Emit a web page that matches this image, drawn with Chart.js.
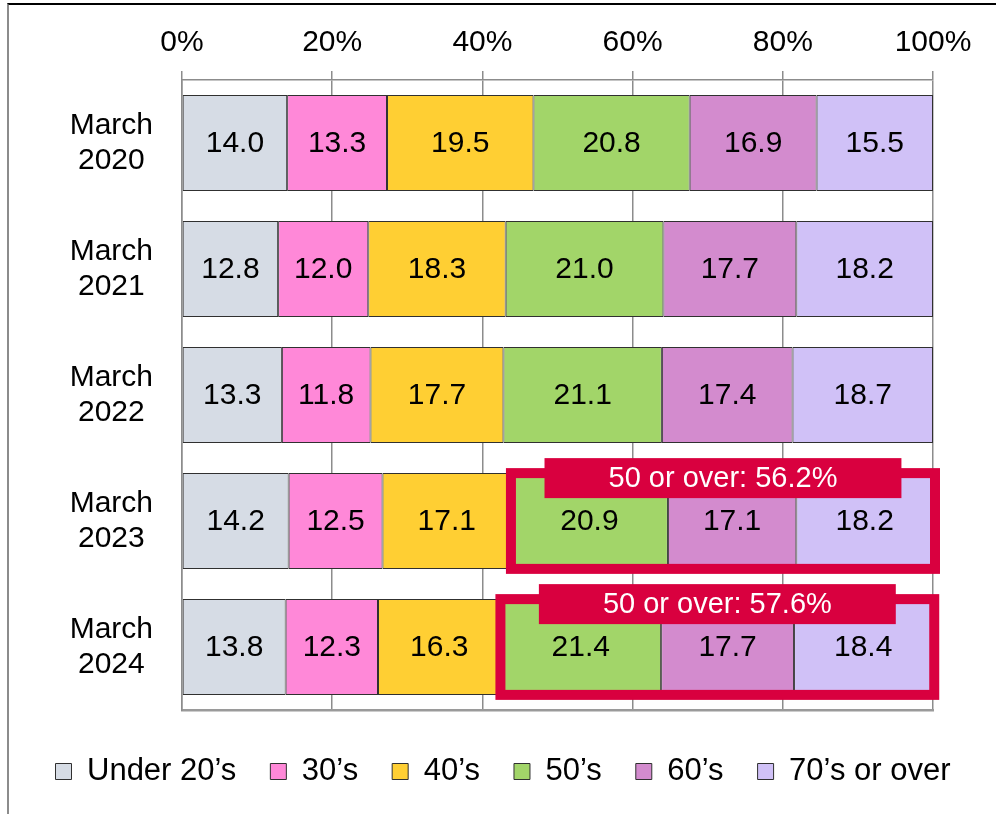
<!DOCTYPE html>
<html>
<head>
<meta charset="utf-8">
<script src="https://cdn.jsdelivr.net/npm/chart.js@4.4.1/dist/chart.umd.min.js"></script>
<style>
  html, body { margin: 0; padding: 0; background: #ffffff; }
  #wrap { position: relative; width: 996px; height: 814px; overflow: hidden; }
  #frame { position: absolute; left: 7px; top: 3px; width: 1000px; height: 820px;
           border-top: 2px solid #000000; border-left: 2px solid #8c8c8c; box-sizing: border-box; }
  canvas { position: absolute; left: 0; top: 0; }
</style>
</head>
<body>
<div id="wrap">
  <div id="frame"></div>
  <canvas id="c" width="996" height="814"></canvas>
</div>
<script>
// ---- data ----
const categories = [["March", "2020"], ["March", "2021"], ["March", "2022"], ["March", "2023"], ["March", "2024"]];
const seriesNames = ["Under 20\u2019s", "30\u2019s", "40\u2019s", "50\u2019s", "60\u2019s", "70\u2019s or over"];
const under20s = [14.0, 12.8, 13.3, 14.2, 13.8];
const thirties = [13.3, 12.0, 11.8, 12.5, 12.3];
const forties = [19.5, 18.3, 17.7, 17.1, 16.3];
const fifties = [20.8, 21.0, 21.1, 20.9, 21.4];
const sixties = [16.9, 17.7, 17.4, 17.1, 17.7];
const seventiesOver = [15.5, 18.2, 18.7, 18.2, 18.4];
const xTickValues = [0, 20, 40, 60, 80, 100];
const highlightRows = [3, 4];
const highlightLabels = ["50 or over: 56.2%", "50 or over: 57.6%"];
const highlightFromSeries = 3;

// ---- styles ----
const colors = ["#D6DCE5", "#FF88D8", "#FFCF33", "#A2D569", "#D38BCE", "#D0C1F7"];
const FONT = "'Liberation Sans', Arial, Helvetica, sans-serif";
const RED = "#D9003F";

const seriesValues = [under20s, thirties, forties, fifties, sixties, seventiesOver];
const datasets = seriesNames.map((name, i) => ({
  label: name,
  data: seriesValues[i],
  backgroundColor: colors[i],
  borderColor: "#303030",
  borderWidth: 1,
  borderSkipped: false,
  barPercentage: 0.76,
  categoryPercentage: 1.0
}));

const valueLabels = {
  id: "valueLabels",
  afterDatasetsDraw(chart) {
    const ctx = chart.ctx;
    ctx.save();
    ctx.font = "30px " + FONT;
    ctx.fillStyle = "#000000";
    ctx.textAlign = "center";
    ctx.textBaseline = "middle";
    chart.data.datasets.forEach((ds, di) => {
      const meta = chart.getDatasetMeta(di);
      meta.data.forEach((el, i) => {
        const cx = (el.x + el.base) / 2;
        ctx.fillText(ds.data[i].toFixed(1), cx, el.y + 1);
      });
    });
    ctx.restore();
  }
};

const highlightBoxes = {
  id: "highlightBoxes",
  afterDatasetsDraw(chart) {
    const ctx = chart.ctx;
    const last = chart.data.datasets.length - 1;
    ctx.save();
    highlightRows.forEach((row, k) => {
      const s = chart.getDatasetMeta(highlightFromSeries).data[row];
      const e = chart.getDatasetMeta(last).data[row];
      const left = Math.min(s.base, s.x);
      const right = Math.max(e.x, e.base) + 2;
      const top = s.y - s.height / 2;
      const h = s.height;
      ctx.strokeStyle = RED;
      ctx.lineWidth = 10;
      ctx.strokeRect(left, top, right - left, h);
      ctx.font = "29px " + FONT;
      const tw = ctx.measureText(highlightLabels[k]).width;
      const bw = tw + 128;
      const bh = 40;
      const cx = (left + right) / 2;
      const by = top - 15;
      ctx.fillStyle = RED;
      ctx.fillRect(cx - bw / 2, by, bw, bh);
      ctx.fillStyle = "#FFFFFF";
      ctx.textAlign = "center";
      ctx.textBaseline = "middle";
      ctx.fillText(highlightLabels[k], cx, by + bh / 2 + 1);
    });
    ctx.restore();
  }
};

new Chart(document.getElementById("c"), {
  type: "bar",
  data: { labels: categories, datasets: datasets },
  options: {
    indexAxis: "y",
    responsive: false,
    animation: false,
    layout: { padding: { left: 10, right: 0, top: 0, bottom: 17 } },
    scales: {
      x: {
        position: "top",
        stacked: true,
        min: 0,
        max: 100,
        afterBuildTicks(scale) { scale.ticks = xTickValues.map(v => ({ value: v })); },
        afterFit(scale) { scale.height = 80; },
        ticks: {
          font: { family: FONT, size: 30 },
          color: "#000000",
          padding: 10,
          callback: v => v + "%"
        },
        grid: { color: "#8c8c8c", lineWidth: 1.5, tickLength: 9, drawTicks: true },
        border: { display: true, color: "#8c8c8c", width: 1.5 }
      },
      x2: {
        position: "bottom",
        type: "linear",
        min: 0,
        max: 100,
        afterFit(scale) { scale.height = 12; },
        ticks: { display: false },
        grid: { display: false, drawTicks: false },
        border: { display: true, color: "#9a9a9a", width: 2.5 }
      },
      y: {
        stacked: true,
        afterFit(scale) { scale.width = 172; },
        ticks: {
          font: { family: FONT, size: 30, lineHeight: 1.18 },
          color: "#000000",
          padding: 29,
          crossAlign: "center"
        },
        grid: { display: false, drawTicks: false },
        border: { display: true, color: "#8c8c8c", width: 1.5 }
      },
      y2: {
        position: "right",
        type: "linear",
        afterFit(scale) { scale.width = 63; },
        ticks: { display: false },
        grid: { display: false, drawTicks: false },
        border: { display: false }
      }
    },
    plugins: {
      legend: {
        position: "bottom",
        labels: {
          font: { family: FONT, size: 31 },
          color: "#000000",
          boxWidth: 16,
          boxHeight: 16,
          padding: 34
        }
      },
      tooltip: { enabled: false }
    }
  },
  plugins: [valueLabels, highlightBoxes]
});
</script>
</body>
</html>
